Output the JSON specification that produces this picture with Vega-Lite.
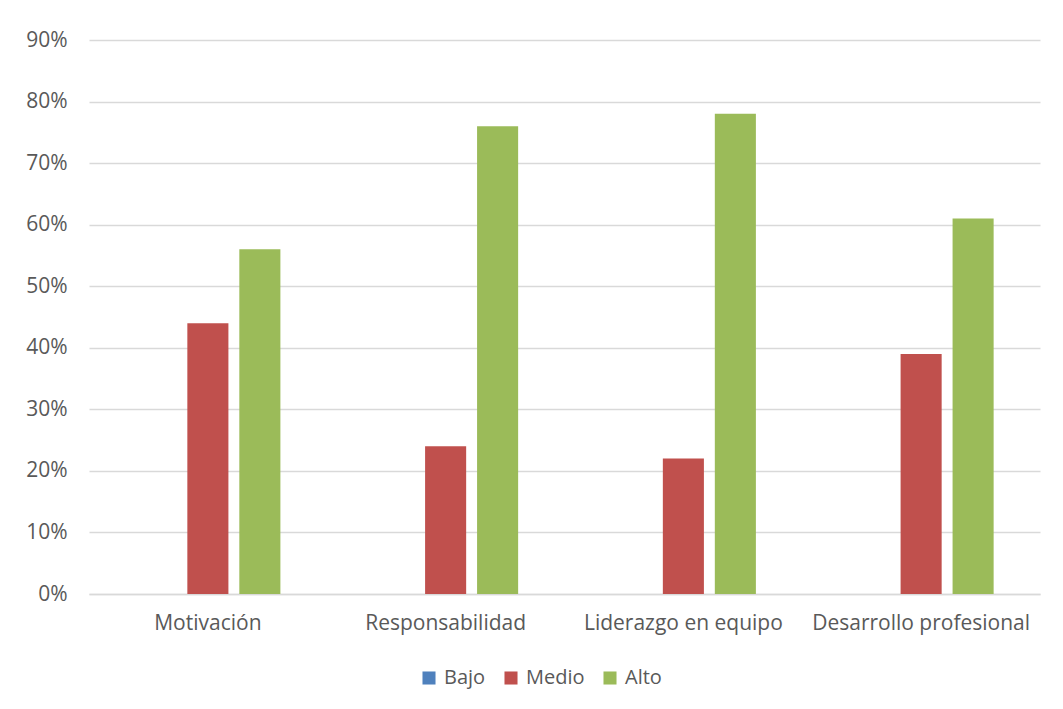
{
  "$schema": "https://vega.github.io/schema/vega-lite/v6.json",
  "width": 951,
  "height": 554,
  "autosize": {"type": "none"},
  "padding": {"left": 89, "top": 40, "right": 23, "bottom": 115},
  "background": "white",
  "config": {
    "view": {"stroke": null},
    "font": "Open Sans",
    "axis": {"labelFont": "Open Sans", "labelColor": "#595959", "labelFontSize": 21, "labelLimit": 400},
    "legend": {"labelFont": "Open Sans", "labelColor": "#595959", "labelFontSize": 20, "labelLimit": 200}
  },
  "data": {
    "values": [
      {"categoria": "Motivación", "nivel": "Bajo", "valor": 0},
      {"categoria": "Motivación", "nivel": "Medio", "valor": 0.44},
      {"categoria": "Motivación", "nivel": "Alto", "valor": 0.56},
      {"categoria": "Responsabilidad", "nivel": "Bajo", "valor": 0},
      {"categoria": "Responsabilidad", "nivel": "Medio", "valor": 0.24},
      {"categoria": "Responsabilidad", "nivel": "Alto", "valor": 0.76},
      {"categoria": "Liderazgo en equipo", "nivel": "Bajo", "valor": 0},
      {"categoria": "Liderazgo en equipo", "nivel": "Medio", "valor": 0.22},
      {"categoria": "Liderazgo en equipo", "nivel": "Alto", "valor": 0.78},
      {"categoria": "Desarrollo profesional", "nivel": "Bajo", "valor": 0},
      {"categoria": "Desarrollo profesional", "nivel": "Medio", "valor": 0.39},
      {"categoria": "Desarrollo profesional", "nivel": "Alto", "valor": 0.61}
    ]
  },
  "mark": {"type": "bar"},
  "encoding": {
    "x": {
      "field": "categoria",
      "type": "nominal",
      "sort": null,
      "scale": {"paddingInner": 0.39, "paddingOuter": 0.195},
      "axis": {
        "title": null,
        "labelAngle": 0,
        "ticks": false,
        "domainColor": "#d9d9d9",
        "domainWidth": 1.5,
        "labelPadding": 18,
        "grid": false
      }
    },
    "xOffset": {
      "field": "nivel",
      "type": "nominal",
      "sort": ["Bajo", "Medio", "Alto"],
      "scale": {"paddingInner": 0.21, "paddingOuter": 0}
    },
    "y": {
      "field": "valor",
      "type": "quantitative",
      "scale": {"domain": [0, 0.9], "nice": false},
      "axis": {
        "title": null,
        "format": ".0%",
        "values": [0, 0.1, 0.2, 0.3, 0.4, 0.5, 0.6, 0.7, 0.8, 0.9],
        "domain": false,
        "ticks": false,
        "gridColor": "#d9d9d9",
        "gridWidth": 1.5,
        "labelPadding": 22
      }
    },
    "color": {
      "field": "nivel",
      "type": "nominal",
      "sort": ["Bajo", "Medio", "Alto"],
      "scale": {"domain": ["Bajo", "Medio", "Alto"], "range": ["#4f81bd", "#c0504d", "#9bbb59"]},
      "legend": {
        "title": null,
        "orient": "none",
        "direction": "horizontal",
        "legendX": 330,
        "legendY": 628,
        "symbolType": "square",
        "symbolSize": 170,
        "symbolStrokeWidth": 0,
        "columnPadding": 15,
        "labelOffset": 5
      }
    }
  }
}
